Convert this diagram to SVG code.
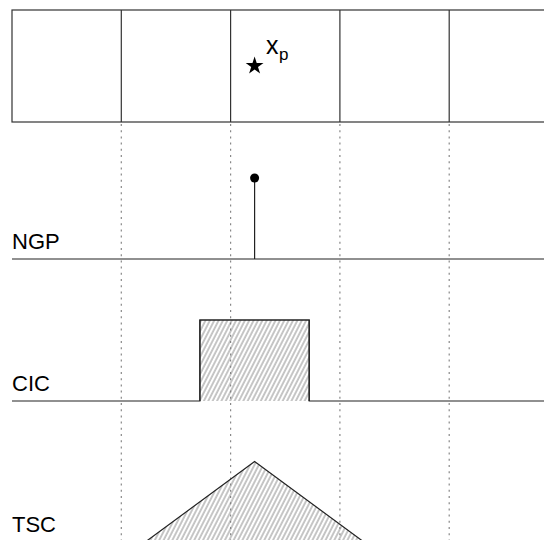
<svg xmlns="http://www.w3.org/2000/svg" width="544" height="540" viewBox="0 0 544 540">
  <style>
    .cell { fill: none; stroke: #333; stroke-width: 1.2; }
    .grid { stroke: #888; stroke-width: 1.2; stroke-dasharray: 2 4.2; }
    .axis { stroke: #222; stroke-width: 1.2; fill: none; }
    .shape { fill: url(#hatch); stroke: #222; stroke-width: 1.2; }
    .label { font-family: "Liberation Sans", Arial, sans-serif; font-size: 22px; fill: #000; }
    .pos { font-family: "Liberation Sans", Arial, sans-serif; font-size: 25px; fill: #000; }
    .sub { font-family: "Liberation Sans", Arial, sans-serif; font-size: 17px; fill: #000; }
  </style>
  <defs>
    <pattern id="hatch" patternUnits="userSpaceOnUse" width="3.9" height="10" patternTransform="rotate(27)">
      <line x1="1" y1="0" x2="1" y2="10" stroke="#808080" stroke-width="0.9"/>
    </pattern>
  </defs>
  <rect width="544" height="540" fill="#fff"/>

  <!-- grid cells -->
  <g id="cells">
    <rect class="cell" x="12" y="10" width="560" height="112"/>
    <line class="cell" x1="121.3" y1="10" x2="121.3" y2="122"/>
    <line class="cell" x1="230.6" y1="10" x2="230.6" y2="122"/>
    <line class="cell" x1="339.9" y1="10" x2="339.9" y2="122"/>
    <line class="cell" x1="449.2" y1="10" x2="449.2" y2="122"/>
  </g>

  <!-- cell boundaries carried down through the plots -->
  <g id="connectors">
    <line class="grid" x1="121.3" y1="124" x2="121.3" y2="540"/>
    <line class="grid" x1="230.6" y1="124" x2="230.6" y2="540"/>
    <line class="grid" x1="339.9" y1="124" x2="339.9" y2="540"/>
    <line class="grid" x1="449.2" y1="124" x2="449.2" y2="540"/>
  </g>

  <!-- particle -->
  <g id="particle">
    <polygon fill="#000" points="254.6,56.5 256.7,63 263.5,63 258,67 260.1,73.5 254.6,69.5 249.1,73.5 251.2,67 245.7,63 252.5,63"/>
    <text class="pos" x="266" y="53.5">x</text>
    <text class="sub" x="279" y="60">p</text>
  </g>

  <!-- nearest grid point -->
  <g id="ngp">
    <text class="label" x="12" y="249">NGP</text>
    <line class="axis" x1="12" y1="259" x2="544" y2="259"/>
    <line class="axis" x1="254.6" y1="259" x2="254.6" y2="178"/>
    <circle cx="254.6" cy="178" r="4.5" fill="#000"/>
  </g>

  <!-- cloud in cell -->
  <g id="cic">
    <text class="label" x="12" y="391">CIC</text>
    <path class="shape" d="M199.9,401 V320 H309.2 V401"/>
    <polyline class="axis" points="12,401 199.9,401 199.9,320 309.2,320 309.2,401 544,401"/>
  </g>

  <!-- triangular shaped cloud -->
  <g id="tsc">
    <text class="label" x="12" y="532">TSC</text>
    <path class="shape" d="M145.3,542 L254.6,461.5 L363.9,542 Z"/>
  </g>
</svg>
